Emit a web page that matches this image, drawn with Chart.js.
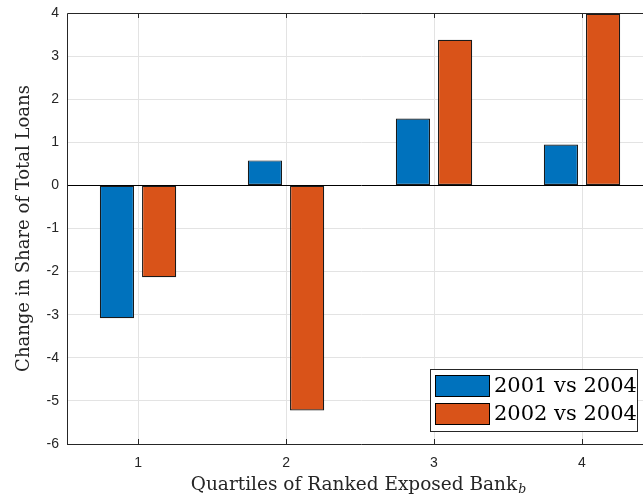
<!DOCTYPE html>
<html>
<head>
<meta charset="utf-8">
<script src="https://cdn.jsdelivr.net/npm/chart.js@4.4.0/dist/chart.umd.min.js"></script>
<style>
  html, body { margin: 0; padding: 0; background: #fff; overflow: hidden; }
  #wrap { width: 700px; height: 497px; }
</style>
</head>
<body>
<div id="wrap"><canvas id="chart"></canvas></div>
<script>
const quartiles = [1, 2, 3, 4]
const vs2001 = [-3.08, 0.58, 1.55, 0.95]
const vs2002 = [-2.13, -5.22, 3.38, 3.98]
const seriesLabels = ['2001 vs 2004', '2002 vs 2004']
const yTicks = [-6, -5, -4, -3, -2, -1, 0, 1, 2, 3, 4]

const serif = '"DejaVu Serif", "Liberation Serif", serif'
const sans = '"Liberation Sans", Arial, sans-serif'

// box, inner ticks, x title with subscript and the legend box
const extras = {
    id: 'extras',
    afterDraw: chart => {
        const ctx = chart.ctx
        const a = chart.chartArea
        const xs = chart.scales.x
        ctx.save()
        ctx.strokeStyle = '#262626'
        ctx.lineWidth = 1
        ctx.beginPath()
        ctx.moveTo(a.left + .5, a.bottom + .5)
        ctx.lineTo(a.left + .5, a.top + .5)
        ctx.lineTo(a.right, a.top + .5)
        ctx.moveTo(a.left, a.bottom + .5)
        ctx.lineTo(a.right, a.bottom + .5)
        xs.ticks.forEach(t => {
            const px = Math.round(xs.getPixelForValue(t.value)) + .5
            ctx.moveTo(px, a.top)
            ctx.lineTo(px, a.top + 5)
            ctx.moveTo(px, a.bottom)
            ctx.lineTo(px, a.bottom - 5)
        })
        ctx.stroke()

        // x axis title
        ctx.fillStyle = '#262626'
        ctx.font = '18.5px ' + serif
        ctx.textBaseline = 'alphabetic'
        const main = 'Quartiles of Ranked Exposed Bank'
        const wMain = ctx.measureText(main).width
        ctx.font = 'italic 12.5px ' + serif
        const wSub = ctx.measureText('b').width
        const cx = 358
        const x0 = cx - (wMain + wSub) / 2
        ctx.font = '18.5px ' + serif
        ctx.fillText(main, x0, 490)
        ctx.font = 'italic 12.5px ' + serif
        ctx.fillText('b', x0 + wMain + 1, 493)

        // legend
        const lx = 430, ly = 369, lw = 207, lh = 62
        ctx.fillStyle = '#fff'
        ctx.fillRect(lx, ly, lw, lh)
        ctx.strokeStyle = '#262626'
        ctx.strokeRect(lx + .5, ly + .5, lw, lh)
        chart.data.datasets.forEach((ds, i) => {
            const ry = ly + 6 + i * 28
            ctx.fillStyle = ds.backgroundColor
            ctx.fillRect(lx + 5, ry, 54, 21)
            ctx.strokeStyle = '#000'
            ctx.strokeRect(lx + 5.5, ry + .5, 54, 21)
            ctx.fillStyle = '#000'
            ctx.font = '21px ' + serif
            ctx.textBaseline = 'middle'
            ctx.fillText(ds.label, lx + 64, ry + 12)
        })
        ctx.restore()
    }
}

new Chart(document.getElementById('chart'), {
    type: 'bar',
    data: {
        labels: quartiles,
        datasets: [
            { label: seriesLabels[0], data: vs2001, backgroundColor: '#0072BD' },
            { label: seriesLabels[1], data: vs2002, backgroundColor: '#D95319' }
        ]
    },
    options: {
        responsive: true,
        maintainAspectRatio: false,
        animation: false,
        layout: { padding: { top: 13, right: 44, left: 0, bottom: 0 } },
        datasets: {
            bar: {
                borderColor: '#1a1a1a',
                borderWidth: 1.2,
                borderSkipped: false,
                categoryPercentage: 0.57,
                barPercentage: 0.81
            }
        },
        plugins: {
            legend: { display: false },
            tooltip: { enabled: false }
        },
        scales: {
            x: {
                type: 'linear',
                min: 0.52,
                max: 4.5,
                offset: false,
                afterFit: s => { s.height = 53; s.paddingLeft = 0; s.paddingRight = 0 },
                afterBuildTicks: s => { s.ticks = quartiles.map(v => ({ value: v })) },
                border: { display: false },
                grid: { offset: false, color: '#e3e3e3', drawTicks: false },
                ticks: { color: '#262626', font: { family: sans, size: 14 }, padding: 11 }
            },
            y: {
                min: -6,
                max: 4,
                afterFit: s => { s.width = 67; s.paddingTop = 0; s.paddingBottom = 0 },
                afterBuildTicks: s => { s.ticks = yTicks.map(v => ({ value: v })) },
                border: { display: false },
                grid: {
                    drawTicks: false,
                    color: c => c.tick && c.tick.value === 0 ? '#000' : '#e3e3e3'
                },
                ticks: { color: '#262626', font: { family: sans, size: 14 }, padding: 8 },
                title: {
                    display: true,
                    text: 'Change in Share of Total Loans',
                    color: '#262626',
                    font: { family: serif, size: 18 },
                    padding: { top: 14, bottom: 0 }
                }
            }
        }
    },
    plugins: [extras]
})
</script>
</body>
</html>
